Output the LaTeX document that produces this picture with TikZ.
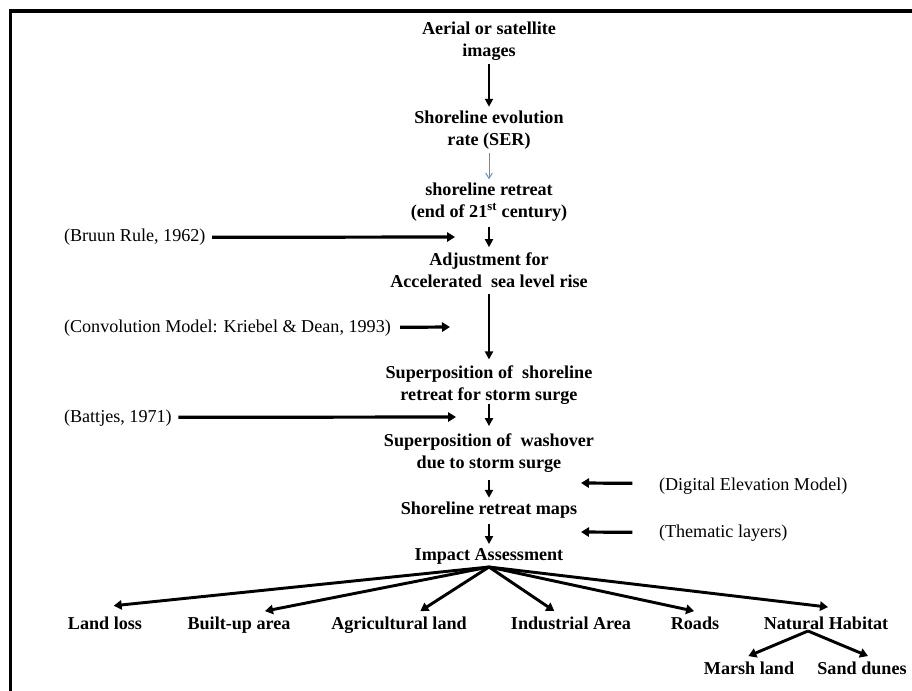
\documentclass[tikz,border=0pt]{standalone}
\usepackage{fontspec}
\setmainfont{Liberation Serif}
\usetikzlibrary{arrows.meta}
\definecolor{serblue}{RGB}{95,140,205}
\begin{document}
\begin{tikzpicture}[x=0.75pt,y=-0.75pt,
  every node/.style={inner sep=0pt,outer sep=0pt,font=\fontsize{13.6pt}{16.5pt}\selectfont},
  mainbox/.style={align=center,font=\fontsize{13.6pt}{16.5pt}\selectfont\bfseries},
  refbox/.style={anchor=base west,font=\fontsize{13.6pt}{16.5pt}\selectfont},
  leaf/.style={anchor=base,font=\fontsize{13.6pt}{16.5pt}\selectfont\bfseries},
  varr/.style={line width=1.6pt,-{Triangle[length=6pt,width=6pt]}},
  sarr/.style={line width=2.4pt,-{Triangle[length=6pt,width=7pt]}},
  farr/.style={line width=2.2pt,-{Triangle[length=6pt,width=7pt]}},
  barr/.style={line width=0.7pt,color=serblue,-{Straight Barb[length=4pt,width=5pt]}}]
\useasboundingbox (0,0) rectangle (912,691);
\draw[line width=2.3pt] (10.5,691) -- (10.5,11) -- (912,11);

% main column
\node[mainbox] (n1) at (489,41) {Aerial or satellite\\images};
\node[mainbox] (n2) at (489,130) {Shoreline evolution\\rate (SER)};
\node[mainbox] (n3) at (489,202.5) {shoreline retreat\\(end of 21\textsuperscript{st} century)};
\node[mainbox] (n4) at (489,270) {Adjustment for\\Accelerated\ \ sea level rise};
\node[mainbox] (n5) at (489,385.5) {Superposition of\ \ shoreline\\retreat for storm surge};
\node[mainbox] (n6) at (489,453.5) {Superposition of\ \ washover\\due to storm surge};
\node[mainbox] (n7) at (489,510) {Shoreline retreat maps};
\node[mainbox] (n8) at (489,556) {Impact Assessment};

\draw[varr] ([yshift=-3pt]n1.south) -- ([yshift=3pt]n2.north);
\draw[barr] ([yshift=-3pt]n2.south) -- ([yshift=3pt]n3.north);
\draw[varr] ([yshift=-4pt]n3.south) -- ([yshift=4pt]n4.north);
\draw[varr] ([yshift=-5pt]n4.south) -- ([yshift=5pt]n5.north);
\draw[varr] ([yshift=1pt]n5.south) -- ([yshift=6pt]n6.north);
\draw[varr] ([yshift=-5pt]n6.south) -- ([yshift=3pt]n7.north);
\draw[varr] ([yshift=-4pt]n7.south) -- ([yshift=3pt]n8.north);

% side references
\node[refbox] (r1) at (64,242) {(Bruun Rule, 1962)};
\coordinate (e1) at (455,237);
\draw[sarr] ([xshift=5pt,yshift=3.5pt]r1.base east) -- (e1);
\node[refbox] (r2) at (64,332) {(Convolution Model: Kriebel \& Dean, 1993)};
\coordinate (e2) at (450,327);
\draw[sarr] ([xshift=7pt,yshift=3.5pt]r2.base east) -- (e2);
\node[refbox] (r3) at (64,422) {(Battjes, 1971)};
\coordinate (e3) at (456,417);
\draw[sarr] ([xshift=5pt,yshift=3.5pt]r3.base east) -- (e3);
\node[refbox] (r4) at (659,490) {(Digital Elevation Model)};
\coordinate (e4) at (581,483);
\draw[sarr] ([xshift=-20pt,yshift=5pt]r4.base west) -- (e4);
\node[refbox] (r5) at (659,537) {(Thematic layers)};
\coordinate (e5) at (581,532);
\draw[sarr] ([xshift=-20pt,yshift=3.5pt]r5.base west) -- (e5);

% impacts
\coordinate (hub) at (489,567);
\node[leaf] (l1) at (105,629) {Land loss};
\node[leaf] (l2) at (239,629) {Built-up area};
\node[leaf] (l3) at (399,629) {Agricultural land};
\node[leaf] (l4) at (571,629) {Industrial Area};
\node[leaf] (l5) at (695,629) {Roads};
\node[leaf] (l6) at (826,629) {Natural Habitat};
\draw[farr] (hub) -- ([xshift=6.5pt,yshift=8pt]l1.north);
\draw[farr] (hub) -- ([xshift=19.5pt,yshift=4pt]l2.north);
\draw[farr] (hub) -- ([xshift=16pt,yshift=4pt]l3.north);
\draw[farr] (hub) -- ([xshift=-12.5pt,yshift=4pt]l4.north);
\draw[farr] (hub) -- ([xshift=-0.7pt,yshift=4pt]l5.north);
\draw[farr] (hub) -- ([xshift=1.5pt,yshift=7pt]l6.north);

\coordinate (split) at (808,631);
\node[leaf] (m1) at (749,674) {Marsh land};
\node[leaf] (m2) at (862,674) {Sand dunes};
\draw[farr] (split) -- ([xshift=-0.5pt,yshift=4pt]m1.north);
\draw[farr] (split) -- ([xshift=4.5pt,yshift=4pt]m2.north);
\end{tikzpicture}
\end{document}
